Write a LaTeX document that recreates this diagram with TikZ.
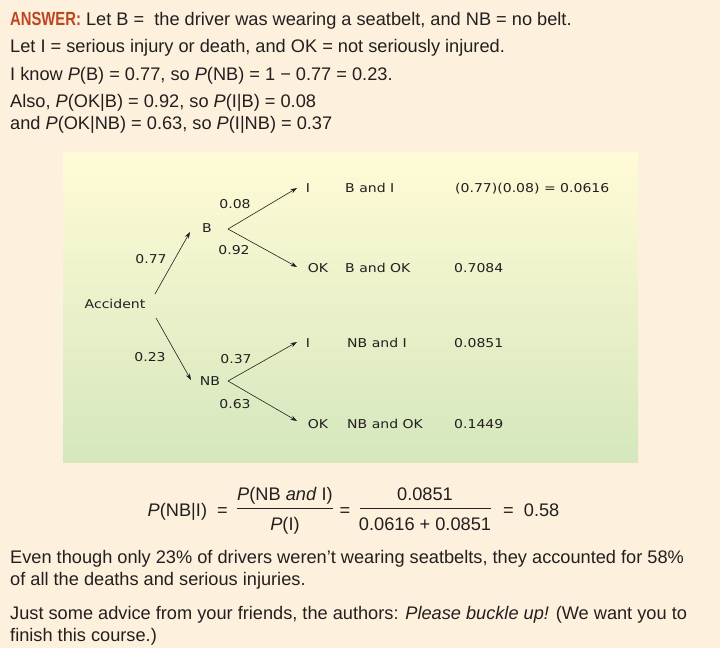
\documentclass[tikz,border=0pt]{standalone}
\usepackage{fontspec}
\setmainfont{Liberation Sans}
\newfontfamily\ansfont[FakeStretch=0.78]{Liberation Sans}
\newfontfamily\hand[FakeStretch=1.15]{DejaVu Sans}
\usetikzlibrary{arrows.meta}
\definecolor{bgc}{HTML}{FDF0DC}
\definecolor{boxtop}{HTML}{FFFBD6}
\definecolor{boxbot}{HTML}{D5E7BD}
\definecolor{ans}{HTML}{C0451F}
\definecolor{ink}{HTML}{231F20}
\begin{document}
\begin{tikzpicture}[x=1pt,y=-1pt,
  txt/.style={anchor=base west, inner sep=0pt, text=ink, font=\fontsize{18.2}{21}\selectfont},
  eqt/.style={inner sep=0pt, text=ink, font=\fontsize{18.2}{21}\selectfont},
  lab/.style={inner sep=0pt, text=ink, font=\hand\fontsize{12.2}{14}\selectfont},
  res/.style={lab, anchor=base west},
  br/.style={draw=ink, line width=0.6pt, -{Stealth[length=6.5pt,width=4.5pt]}}]
\useasboundingbox (0,0) rectangle (720,648);
\fill[bgc] (0,0) rectangle (720,648);
\shade[top color=boxtop, bottom color=boxbot] (63,152) rectangle (638,462);

% header text
\node[txt] (l1) at (10,25) {{\ansfont\bfseries\fontsize{19}{21}\selectfont\color{ans}ANSWER:} Let B =\ \ the driver was wearing a seatbelt, and NB = no belt.};
\node[txt] (l2) at (10,52) {Let I = serious injury or death, and OK = not seriously injured.};
\node[txt] (l3) at (10,80) {I know \textit{P}(B) = 0.77, so \textit{P}(NB) = 1 − 0.77 = 0.23.};
\node[txt] (l4) at (10,107) {Also, \textit{P}(OK|B) = 0.92, so \textit{P}(I|B) = 0.08};
\node[txt] (l5) at (10,129) {and \textit{P}(OK|NB) = 0.63, so \textit{P}(I|NB) = 0.37};

% tree
\node[lab] (acc) at (115,304) {Accident};
\node[lab] (B) at (207,228) {B};
\node[lab] (NB) at (210,381) {NB};
\node[lab] (I1) at (308,188) {I};
\node[lab] (OK1) at (318,268) {OK};
\node[lab] (I2) at (308,343) {I};
\node[lab] (OK2) at (318,424) {OK};

\coordinate (accU) at (155,294);
\coordinate (accD) at (156,318);
\coordinate (Btip) at (190,232);
\coordinate (NBtip) at (191,380);
\coordinate (Bo) at (228,229);
\coordinate (NBo) at (228,381);
\coordinate (I1t) at (297,188);
\coordinate (OK1t) at (297,267);
\coordinate (I2t) at (297,342);
\coordinate (OK2t) at (297,421);

\draw[br] (accU) -- (Btip);
\draw[br] (accD) -- (NBtip);
\draw[br] (Bo) -- (I1t);
\draw[br] (Bo) -- (OK1t);
\draw[br] (NBo) -- (I2t);
\draw[br] (NBo) -- (OK2t);

\node[lab] (p77) at (151,259) {0.77};
\node[lab] (p23) at (150,357) {0.23};
\node[lab] (p08) at (235,204) {0.08};
\node[lab] (p92) at (234,250) {0.92};
\node[lab] (p37) at (236,359) {0.37};
\node[lab] (p63) at (235,404) {0.63};

\node[res] (e1) at (345,192) {B and I};
\node[res] (e2) at (345,272) {B and OK};
\node[res] (e3) at (347,347) {NB and I};
\node[res] (e4) at (347,428) {NB and OK};
\node[res] (v1) at (455,192) {(0.77)(0.08) = 0.0616};
\node[res] (v2) at (454,272) {0.7084};
\node[res] (v3) at (454,347) {0.0851};
\node[res] (v4) at (454,428) {0.1449};

% equation
\node[eqt, anchor=base east] (lhs) at (228,516) {\textit{P}(NB|I)\ \ =};
\node[eqt, anchor=base] (n1) at (285,500) {\textit{P}(NB \textit{and} I)};
\node[eqt, anchor=base] (d1) at (285,530) {\textit{P}(I)};
\draw[ink, line width=0.5pt] (237,508) -- (333,508);
\node[eqt, anchor=base] (eq2) at (345,516) {=};
\node[eqt, anchor=base] (n2) at (425,500) {0.0851};
\node[eqt, anchor=base] (d2) at (425,530) {0.0616 + 0.0851};
\draw[ink, line width=0.5pt] (360,508) -- (491,508);
\node[eqt, anchor=base west] (rhs) at (503,516) {=\ \ 0.58};

% closing text
\node[txt] (b1) at (10,563) {Even though only 23\% of drivers weren’t wearing seatbelts, they accounted for 58\%};
\node[txt] (b2) at (10,585) {of all the deaths and serious injuries.};
\node[txt] (b3) at (10,619) {Just some advice from your friends, the authors: \textit{Please buckle up!} (We want you to};
\node[txt] (b4) at (10,641) {finish this course.)};
\end{tikzpicture}
\end{document}
